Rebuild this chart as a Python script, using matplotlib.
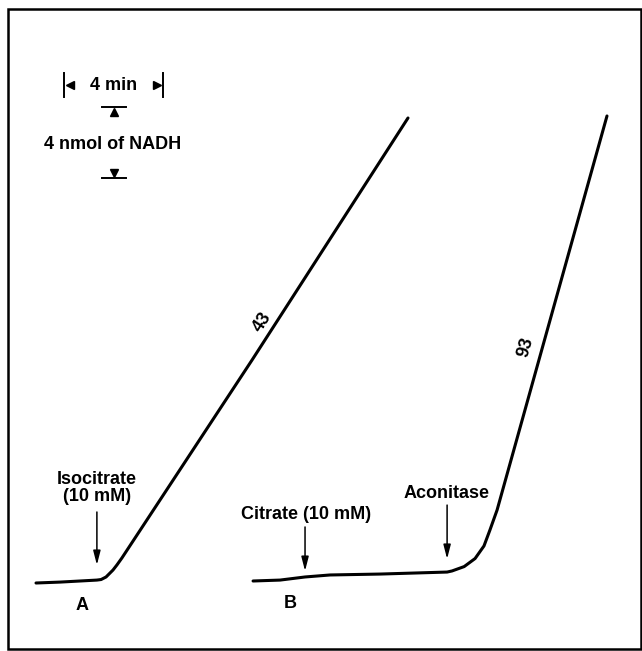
import matplotlib
matplotlib.use("Agg")
import matplotlib.pyplot as plt
from matplotlib.patches import Rectangle

plt.rcParams['font.family'] = ['Liberation Sans', 'DejaVu Sans']

# trace A: isocitrate added (time in min, NADH formed in nmol)
a_time = [0.0, 0.97, 2.46, 2.63, 2.83, 3.11, 3.27, 3.47, 8.73, 15.03]
a_nadh = [0.0, 0.05, 0.16, 0.19, 0.33, 0.71, 0.99, 1.37, 12.22, 25.48]

# trace B: citrate added, then aconitase
b_time = [8.77, 9.86, 10.87, 11.88, 13.90, 16.61, 16.81, 17.30, 17.74, 18.10,
          18.34, 18.63, 23.07]
b_nadh = [0.11, 0.16, 0.33, 0.44, 0.49, 0.60, 0.66, 0.90, 1.34, 2.03,
          2.90, 4.00, 25.59]

rates = ["43", "93"]
scale_min = 4
scale_nmol = 4

fig = plt.figure(figsize=(6.42, 6.51), dpi=100)
ax = fig.add_axes([0, 0, 1, 1])
ax.set_xlim(-1.455, 24.485)
ax.set_ylim(-3.726, 31.945)
ax.axis('off')

# border
fig.patches.append(Rectangle((8 / 642, 2 / 651), 633 / 642, 640 / 651,
                             transform=fig.transFigure, fill=False,
                             edgecolor='black', linewidth=1.8))

ax.plot(a_time, a_nadh, color='black', lw=2.2, solid_capstyle='round',
        solid_joinstyle='round')
ax.plot(b_time, b_nadh, color='black', lw=2.2, solid_capstyle='round',
        solid_joinstyle='round')

fs = 13
ax.text(9.13, 14.30, rates[0], rotation=57, ha='center', va='center',
        fontsize=fs, fontweight='bold')
ax.text(19.80, 12.93, rates[1], rotation=74, ha='center', va='center',
        fontsize=fs, fontweight='bold')

ax.text(1.86, -1.21, "A", ha='center', va='center', fontsize=fs, fontweight='bold')
ax.text(10.26, -1.10, "B", ha='center', va='center', fontsize=fs, fontweight='bold')

arrow = dict(arrowstyle='-|>,head_width=0.18,head_length=0.7', color='black',
             lw=1.1, mutation_scale=12, shrinkA=0, shrinkB=0)
ax.annotate("", xy=(2.46, 0.99), xytext=(2.46, 3.89), arrowprops=arrow)
ax.annotate("", xy=(10.87, 0.66), xytext=(10.87, 3.07), arrowprops=arrow)
ax.annotate("", xy=(16.61, 1.32), xytext=(16.61, 4.27), arrowprops=arrow)

ax.text(2.46, 5.22, "Isocitrate\n(10 mM)", ha='center', va='center', fontsize=fs,
        fontweight='bold', linespacing=1.0)
ax.text(10.91, 3.73, "Citrate (10 mM)", ha='center', va='center', fontsize=fs, fontweight='bold')
ax.text(16.57, 4.93, "Aconitase", ha='center', va='center', fontsize=fs, fontweight='bold')

# time scale bar
t0 = 1.13
t1 = t0 + scale_min
ax.plot([t0, t0], [26.63, 27.95], color='black', lw=1.4)
ax.plot([t1, t1], [26.63, 27.95], color='black', lw=1.4)
ax.plot([t0 + 0.25], [27.29], marker='<', color='black', markersize=6)
ax.plot([t1 - 0.25], [27.29], marker='>', color='black', markersize=6)
ax.text((t0 + t1) / 2, 27.25, "4 min", ha='center', va='center', fontsize=fs, fontweight='bold')

# NADH scale bar
n0 = 22.19
n1 = n0 + scale_nmol * 0.975
xc = 3.15
ax.plot([xc - 0.49, xc + 0.49], [n1, n1], color='black', lw=1.4)
ax.plot([xc - 0.49, xc + 0.49], [n0, n0], color='black', lw=1.4)
ax.plot([xc], [n1 - 0.3], marker='^', color='black', markersize=6)
ax.plot([xc], [n0 + 0.3], marker='v', color='black', markersize=6)
ax.text(xc - 0.05, 24.0, "4 nmol of NADH", ha='center', va='center', fontsize=fs, fontweight='bold')

fig.savefig("out.png", dpi=100)
